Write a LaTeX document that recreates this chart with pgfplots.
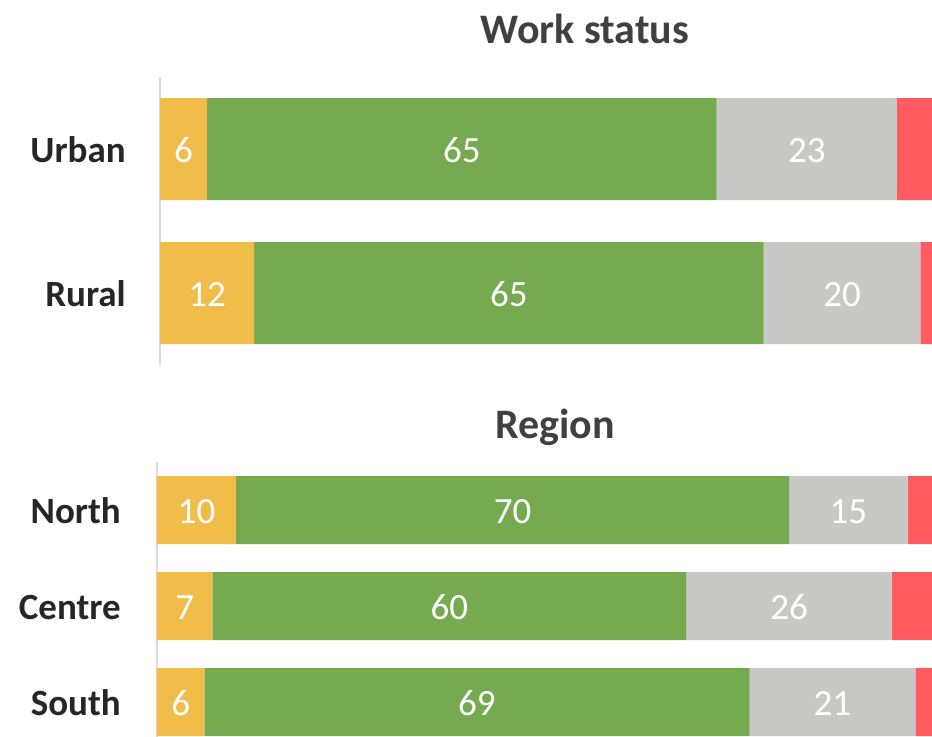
\documentclass[border=0pt]{standalone}
\usepackage{fontspec}
\setmainfont{Carlito}
\usepackage{pgfplots}
\usepackage{pgfplotstable}
\pgfplotsset{compat=1.18}
\definecolor{cyel}{HTML}{F0BD4B}
\definecolor{cgrn}{HTML}{75AA50}
\definecolor{cgry}{HTML}{C8C8C6}
\definecolor{cred}{HTML}{FF5B60}
\definecolor{cline}{HTML}{D9D9D9}
\definecolor{clab}{HTML}{262626}
\definecolor{ctit}{HTML}{404040}

\pgfplotstableread{
y a b c d
1 6 65 23 6
0 12 65 20 3
}\worktab
\pgfplotstableread{
y a b c d
2 10 70 15 5
1 7 60 26 7
0 6 69 21 4
}\regtab

\pgfplotsset{
  mybars/.style={
    xbar stacked, scale only axis, xmin=0,
    axis x line=none, axis y line*=left,
    y axis line style={draw=cline, line width=1.5pt, -},
    major tick length=0pt, tick style={draw=none},
    yticklabel style={font=\bfseries\fontsize{27.75}{30}\selectfont, text=clab,
      anchor=east, inner sep=0pt, text height=17.9pt, text depth=0pt, yshift=-1pt},
  },
  lab/.style={
    visualization depends on={\thisrow{#1}\as\val},
    nodes near coords={\pgfmathprintnumber[assume math mode=true]{\val}},
    every node near coord/.style={font=\fontsize{27.75}{30}\selectfont,
      text=white, anchor=center, inner sep=0pt, text height=17.6pt, text depth=0pt,
      yshift=-1.5pt},
  },
}

\begin{document}
\begin{tikzpicture}
\path[use as bounding box, clip] (0,0) rectangle (699pt,-552pt);

\begin{axis}[mybars, at={(120pt,-57.75pt)}, anchor=north west,
  width=579pt, height=216pt, xmax=98.47, ymin=-0.5, ymax=1.5,
  ytick={0,1}, yticklabels={Rural,Urban}, bar width=76.5pt,
  yticklabel style={xshift=-25.5pt}]
\addplot[fill=cyel, draw=none, lab=a] table[x=a,y=y]{\worktab};
\addplot[fill=cgrn, draw=none, lab=b] table[x=b,y=y]{\worktab};
\addplot[fill=cgry, draw=none, lab=c] table[x=c,y=y]{\worktab};
\addplot[fill=cred, draw=none] table[x=d,y=y]{\worktab};
\end{axis}

\begin{axis}[mybars, at={(117.75pt,-346.5pt)}, anchor=north west,
  width=581.25pt, height=216pt, xmax=98.1, ymin=-0.5, ymax=2.5,
  ytick={0,1,2}, yticklabels={South,Centre,North}, bar width=51pt,
  yticklabel style={xshift=-27pt}]
\addplot[fill=cyel, draw=none, lab=a] table[x=a,y=y]{\regtab};
\addplot[fill=cgrn, draw=none, lab=b] table[x=b,y=y]{\regtab};
\addplot[fill=cgry, draw=none, lab=c] table[x=c,y=y]{\regtab};
\addplot[fill=cred, draw=none] table[x=d,y=y]{\regtab};
\end{axis}

\node[anchor=base, font=\bfseries\fontsize{31.5}{34}\selectfont, text=ctit]
  at (438.75pt,-32.25pt) {Work status};
\node[anchor=base, font=\bfseries\fontsize{31.5}{34}\selectfont, text=ctit]
  at (416.25pt,-328.5pt) {Region};
\end{tikzpicture}
\end{document}
